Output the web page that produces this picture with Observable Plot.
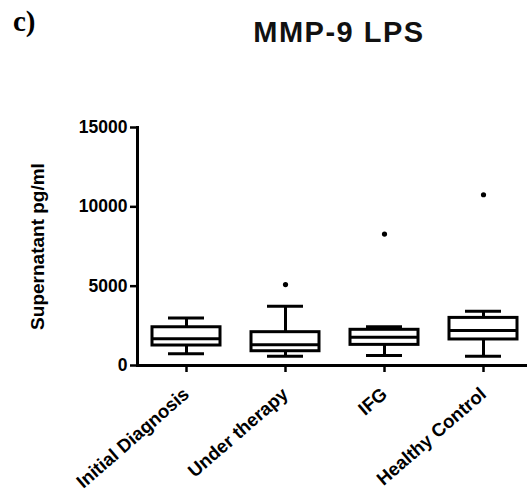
<!DOCTYPE html>
<html>
<head>
<meta charset="utf-8">
<script src="https://cdn.jsdelivr.net/npm/d3@7"></script>
<script src="https://cdn.jsdelivr.net/npm/@observablehq/plot@0.6"></script>
<style>
  html, body { margin: 0; padding: 0; background: #fff; }
  #wrap { position: relative; width: 527px; height: 492px; overflow: hidden; }
  #panel { position: absolute; left: 13px; top: 5px; font-family: "Liberation Serif", "DejaVu Serif", serif; font-weight: bold; font-size: 29px; color: #000; }
  #title { position: absolute; left: 0; width: 527px; top: 16px; text-align: center; padding-left: 151px; box-sizing: border-box; font-family: "Liberation Sans", Arial, sans-serif; font-weight: bold; font-size: 29px; letter-spacing: 1.5px; color: #111; }
  #chart { position: absolute; left: 0; top: 0; }
</style>
</head>
<body>
<div id="wrap">
  <div id="chart"></div>
  <div id="panel">c)</div>
  <div id="title">MMP-9 LPS</div>
</div>
<script>
const groups = ["Initial Diagnosis", "Under therapy", "IFG", "Healthy Control"];
const whiskerLow = [740, 590, 630, 590];
const q1 = [1260, 900, 1300, 1640];
const median = [1680, 1300, 1780, 2200];
const q3 = [2410, 2100, 2250, 3000];
const whiskerHigh = [3000, 3730, 2450, 3420];
const outlierGroups = ["Under therapy", "IFG", "Healthy Control"];
const outlierValues = [5100, 8280, 10760];
const yTicks = [0, 5000, 10000, 15000];
const yLabel = "Supernatant pg/ml";

const boxes = groups.map((g, i) => ({
  group: g, lo: whiskerLow[i], q1: q1[i], med: median[i], q3: q3[i], hi: whiskerHigh[i]
}));
const outliers = outlierGroups.map((g, i) => ({group: g, value: outlierValues[i]}));

const font = "'Liberation Sans', Arial, sans-serif";
const sw = 3;

const chart = Plot.plot({
  width: 527,
  height: 492,
  marginTop: 127,
  marginBottom: 127,
  marginLeft: 137,
  marginRight: 0,
  style: {fontFamily: font, color: "#000", background: "transparent", overflow: "visible"},
  x: {type: "band", domain: groups, range: [137, 533], paddingInner: 0.31, paddingOuter: 0.155, axis: null},
  y: {domain: [0, 15000], axis: null},
  marks: [
    Plot.axisY({ticks: yTicks, tickSize: 7, tickPadding: 3, tickFormat: d => String(d), fontSize: 17.5, fontWeight: "bold", label: null, strokeWidth: 2.5}),
    Plot.axisX({tickSize: 7, tickPadding: 19, tickRotate: -41, fontSize: 18.5, fontWeight: "bold", label: null, strokeWidth: 2.5}),
    Plot.frame({anchor: "left", strokeWidth: sw}),
    Plot.frame({anchor: "bottom", strokeWidth: sw}),
    Plot.text([yLabel], {frameAnchor: "left", dx: -100, rotate: -90, textAnchor: "middle", text: d => d, fontSize: 19, fontWeight: "bold"}),
    Plot.ruleX(boxes, {x: "group", y1: "lo", y2: "q1", strokeWidth: sw}),
    Plot.ruleX(boxes, {x: "group", y1: "q3", y2: "hi", strokeWidth: sw}),
    Plot.barY(boxes, {x: "group", y1: "q1", y2: "q3", fill: "white", stroke: "black", strokeWidth: sw}),
    Plot.tickY(boxes, {x: "group", y: "med", strokeWidth: sw}),
    Plot.tickY(boxes, {x: "group", y: "lo", strokeWidth: sw, insetLeft: 16, insetRight: 16}),
    Plot.tickY(boxes, {x: "group", y: "hi", strokeWidth: sw, insetLeft: 16, insetRight: 16}),
    Plot.dot(outliers, {x: "group", y: "value", r: 2.6, fill: "black", stroke: null})
  ]
});
document.getElementById("chart").appendChild(chart);
</script>
</body>
</html>
